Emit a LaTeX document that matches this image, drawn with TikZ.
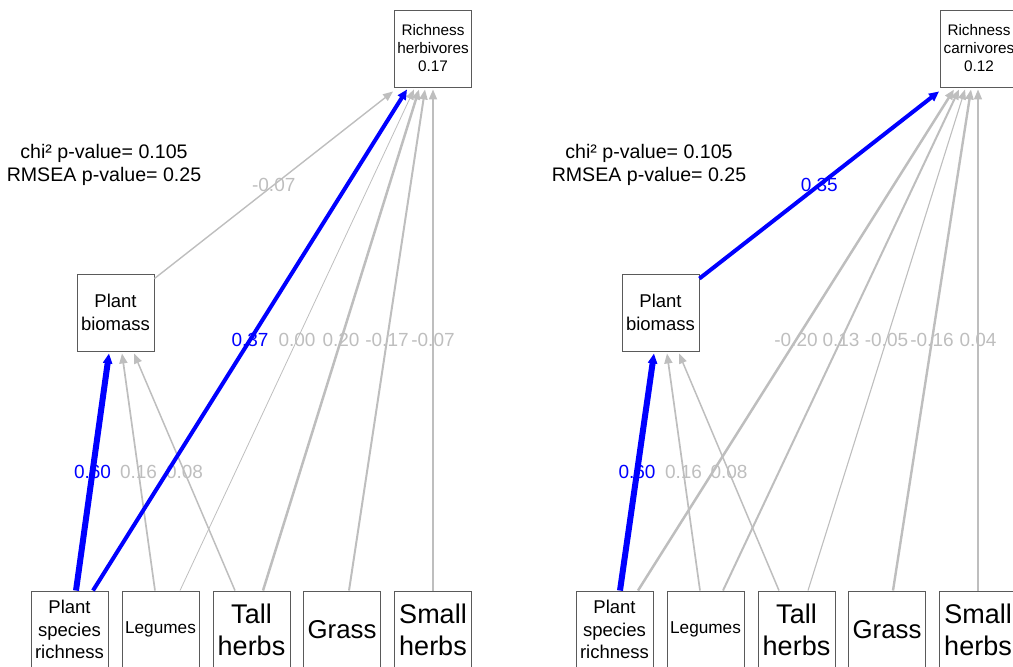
\documentclass[tikz,border=0pt]{standalone}
\usepackage{fontspec}
\setmainfont{Liberation Sans}
\usetikzlibrary{arrows.meta}
\definecolor{edgegray}{RGB}{190,190,190}
\definecolor{boxgray}{RGB}{90,90,90}
\definecolor{sigblue}{RGB}{0,0,255}
\begin{document}
\begin{tikzpicture}[x=1pt,y=-1pt,
  varbox/.style={draw=boxgray,line width=0.9pt,fill=white,minimum width=77pt,minimum height=77pt,inner sep=0pt,align=center,text=black},
  fsmall/.style={font=\fontsize{15.3}{18}\selectfont},
  fmed/.style={font=\fontsize{18.5}{22.5}\selectfont},
  fleg/.style={font=\fontsize{17.2}{20}\selectfont},
  fbig/.style={font=\fontsize{27}{32}\selectfont},
  fgrass/.style={font=\fontsize{25.8}{30}\selectfont},
  fit/.style={font=\fontsize{19.6}{23}\selectfont,align=center,text=black},
  grayedge/.style={draw=edgegray,-{Triangle[length=10pt,width=8pt]}},
  blueedge/.style={draw=sigblue,-{Triangle[length=10pt,width=9pt]}},
  glab/.style={font=\fontsize{19}{22}\selectfont,text=edgegray,inner sep=0pt},
  blab/.style={font=\fontsize{19}{22}\selectfont,text=sigblue,inner sep=0pt}
]
\useasboundingbox (0,0) rectangle (1013,667);

% ---------------- Left panel ----------------
\node[varbox,fsmall] (herbL) at (433,48.5) {Richness\\herbivores\\0.17};
\node[varbox,fmed] (bioL) at (115.5,312.5) {Plant\\biomass};
\node[varbox,fmed] (psrL) at (69.5,629.5) {Plant\\species\\richness};
\node[varbox,fleg] (legL) at (160.5,629.5) {Legumes};
\node[varbox,fbig] (tallL) at (251.5,629.5) {Tall\\herbs};
\node[varbox,fgrass] (grassL) at (342,629.5) {Grass};
\node[varbox,fbig] (smallL) at (433,629.5) {Small\\herbs};
\node[fit] (fitL) at (104,165) {chi² p-value= 0.105\\RMSEA p-value= 0.25};

\draw[grayedge,line width=1.7pt] ([xshift=-5.5pt]legL.north) -- node[glab]{0.16} ([xshift=6.5pt,yshift=-2pt]bioL.south);
\draw[grayedge,line width=1.5pt] ([xshift=-16.5pt]tallL.north) -- node[glab]{0.08} ([xshift=18.5pt,yshift=-2pt]bioL.south);
\draw[blueedge,line width=6pt] ([xshift=6.5pt]psrL.north) -- node[blab]{0.60} ([xshift=-6.5pt,yshift=-2pt]bioL.south);

\draw[grayedge,line width=1.4pt] ([yshift=-5pt]bioL.north east) -- node[glab]{-0.07} ([xshift=-1pt,yshift=-4pt]herbL.south west);
\draw[grayedge,line width=0.8pt] ([xshift=19.5pt]legL.north) -- node[glab]{0.00} ([xshift=-19pt,yshift=-2pt]herbL.south);
\draw[grayedge,line width=2.5pt] ([xshift=11.5pt]tallL.north) -- node[glab]{0.20} ([xshift=-14pt,yshift=-2pt]herbL.south);
\draw[grayedge,line width=2pt] ([xshift=7pt]grassL.north) -- node[glab]{-0.17} ([xshift=-8pt,yshift=-2pt]herbL.south);
\draw[grayedge,line width=1.7pt] (smallL.north) -- node[glab]{-0.07} ([yshift=-2pt]herbL.south);
\draw[blueedge,line width=4pt] ([xshift=23.5pt]psrL.north) -- node[blab]{0.37} ([xshift=-26pt,yshift=-2pt]herbL.south);

% ---------------- Right panel ----------------
\node[varbox,fsmall] (carnR) at (979,48.5) {Richness\\carnivores\\0.12};
\node[varbox,fmed] (bioR) at (660.5,312.5) {Plant\\biomass};
\node[varbox,fmed] (psrR) at (614.5,629.5) {Plant\\species\\richness};
\node[varbox,fleg] (legR) at (705.5,629.5) {Legumes};
\node[varbox,fbig] (tallR) at (796.5,629.5) {Tall\\herbs};
\node[varbox,fgrass] (grassR) at (887,629.5) {Grass};
\node[varbox,fbig] (smallR) at (978,629.5) {Small\\herbs};
\node[fit] (fitR) at (649,165) {chi² p-value= 0.105\\RMSEA p-value= 0.25};

\draw[grayedge,line width=1.7pt] ([xshift=-5.5pt]legR.north) -- node[glab]{0.16} ([xshift=6.5pt,yshift=-2pt]bioR.south);
\draw[grayedge,line width=1.5pt] ([xshift=-17.5pt]tallR.north) -- node[glab]{0.08} ([xshift=18.5pt,yshift=-2pt]bioR.south);
\draw[blueedge,line width=6pt] ([xshift=5.5pt]psrR.north) -- node[blab]{0.60} ([xshift=-6.5pt,yshift=-2pt]bioR.south);

\draw[grayedge,line width=2.5pt] ([xshift=23.5pt]psrR.north) -- node[glab]{-0.20} ([xshift=-25pt,yshift=-2pt]carnR.south);
\draw[grayedge,line width=2pt] ([xshift=17.5pt]legR.north) -- node[glab]{0.13} ([xshift=-20pt,yshift=-2pt]carnR.south);
\draw[grayedge,line width=1.1pt] ([xshift=11.5pt]tallR.north) -- node[glab]{-0.05} ([xshift=-14pt,yshift=-2pt]carnR.south);
\draw[grayedge,line width=2.4pt] ([xshift=6pt]grassR.north) -- node[glab]{-0.16} ([xshift=-8pt,yshift=-2pt]carnR.south);
\draw[grayedge,line width=1.5pt] (smallR.north) -- node[glab]{0.04} ([xshift=-1pt,yshift=-2pt]carnR.south);
\draw[blueedge,line width=4pt] ([yshift=-5pt]bioR.north east) -- node[blab]{0.35} ([xshift=-1pt,yshift=-4pt]carnR.south west);
\end{tikzpicture}
\end{document}
